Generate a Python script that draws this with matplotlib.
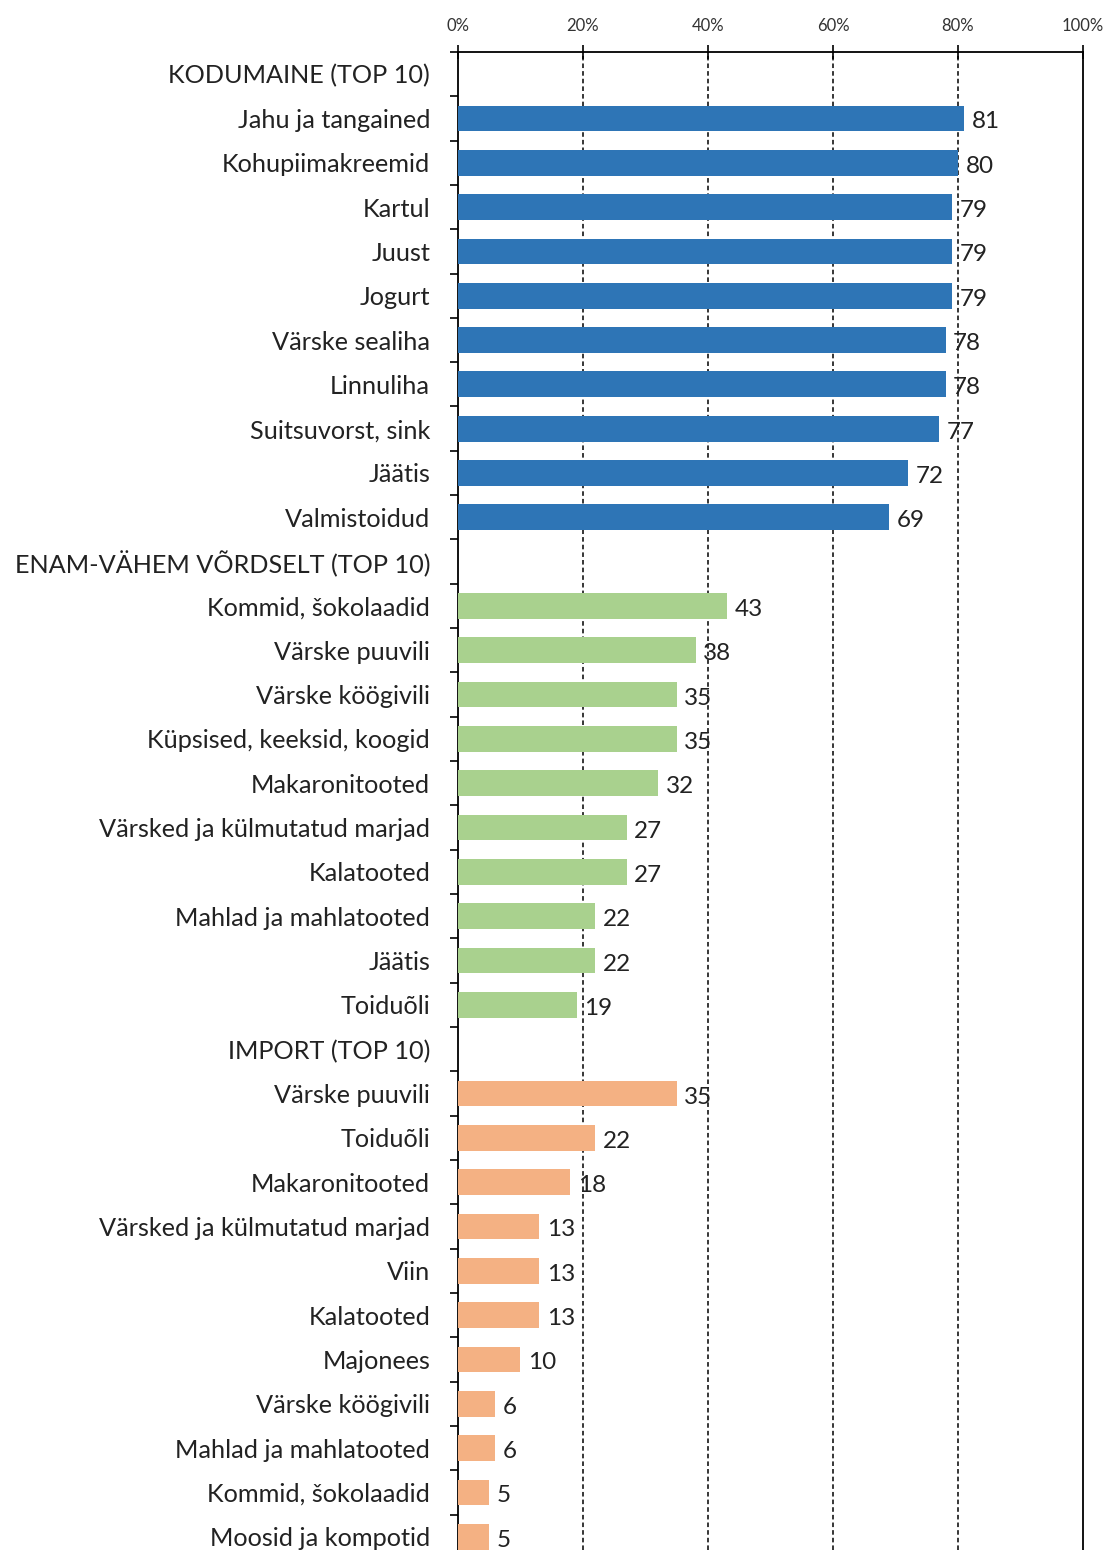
import matplotlib
matplotlib.use('Agg')
import matplotlib.pyplot as plt
from matplotlib.ticker import FixedLocator, PercentFormatter

plt.rcParams['font.family'] = ['Lato', 'DejaVu Sans']

# three groups, each with a header row
headers = ['KODUMAINE (TOP 10)', 'ENAM-VÄHEM VÕRDSELT (TOP 10)', 'IMPORT (TOP 10)']

domestic_items = ['Jahu ja tangained', 'Kohupiimakreemid', 'Kartul', 'Juust', 'Jogurt',
                  'Värske sealiha', 'Linnuliha', 'Suitsuvorst, sink', 'Jäätis', 'Valmistoidud']
domestic_vals = [81, 80, 79, 79, 79, 78, 78, 77, 72, 69]

equal_items = ['Kommid, šokolaadid', 'Värske puuvili', 'Värske köögivili',
               'Küpsised, keeksid, koogid', 'Makaronitooted', 'Värsked ja külmutatud marjad',
               'Kalatooted', 'Mahlad ja mahlatooted', 'Jäätis', 'Toiduõli']
equal_vals = [43, 38, 35, 35, 32, 27, 27, 22, 22, 19]

import_items = ['Värske puuvili', 'Toiduõli', 'Makaronitooted', 'Värsked ja külmutatud marjad',
                'Viin', 'Kalatooted', 'Majonees', 'Värske köögivili', 'Mahlad ja mahlatooted',
                'Kommid, šokolaadid', 'Moosid ja kompotid']
import_vals = [35, 22, 18, 13, 13, 13, 10, 6, 6, 5, 5]

colors = ['#2E75B6', '#A9D18E', '#F4B183']

groups = [(domestic_items, domestic_vals), (equal_items, equal_vals), (import_items, import_vals)]

fig = plt.figure(figsize=(11.1, 15.5), dpi=100)
ax = fig.add_axes([0.4126, 0.0, 0.5631, 0.9665])

labels = []
pos = 0
for header, (items, vals), color in zip(headers, groups, colors):
    labels.append(header)
    pos += 1
    ys = list(range(pos, pos + len(items)))
    ax.barh(ys, vals, height=0.58, color=color, zorder=3)
    for y, v in zip(ys, vals):
        ax.text(v + 1.2, y + 0.08, str(v), va='center', ha='left', fontsize=17.5,
                color='#222222', zorder=4)
    labels.extend(items)
    pos += len(items)

n = len(labels)
ax.set_ylim(n - 0.7, -0.5)
ax.set_xlim(0, 100)

ax.set_yticks(range(n))
ax.set_yticklabels(labels, fontsize=18.2, color='#222222')
ax.yaxis.set_minor_locator(FixedLocator([i - 0.5 for i in range(n + 1)]))
ax.tick_params(axis='y', which='major', length=0, pad=20)
ax.tick_params(axis='y', which='minor', length=6, width=1.2, direction='out')

ax.xaxis.tick_top()
ax.set_xticks(range(0, 101, 20))
ax.xaxis.set_major_formatter(PercentFormatter(decimals=0))
ax.tick_params(axis='x', which='major', direction='inout', length=10, width=1.2,
               labelsize=12, pad=8, labelcolor='#333333')

for x in [20, 40, 60, 80]:
    ax.axvline(x, color='black', linestyle=(0, (3, 2)), linewidth=1.1, zorder=1)

for side in ['top', 'left', 'right']:
    ax.spines[side].set_linewidth(1.3)
ax.spines['bottom'].set_visible(False)

fig.savefig('out.png', dpi=100)
